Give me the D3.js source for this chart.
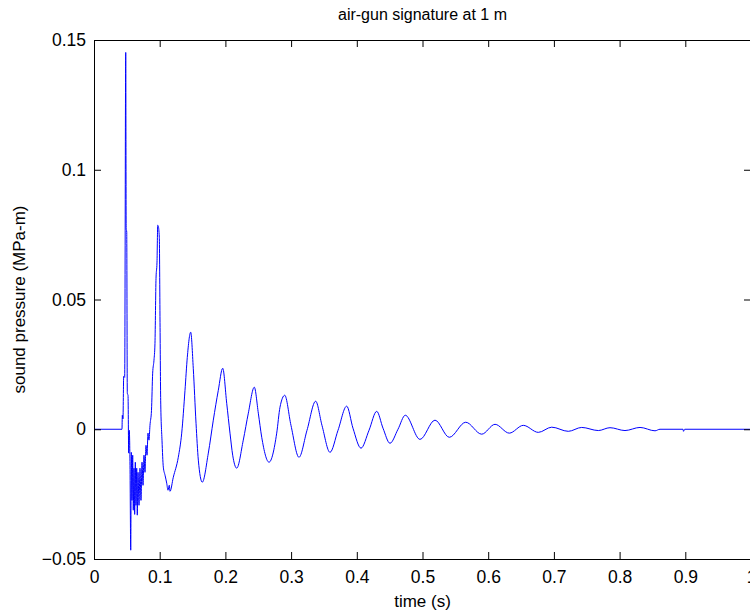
<!DOCTYPE html>
<html>
<head>
<meta charset="utf-8">
<script src="https://cdn.jsdelivr.net/npm/d3@7"></script>
<style>
  body { margin: 0; background: #fff; }
  svg { display: block; font-family: "Liberation Sans", Arial, sans-serif; }
</style>
</head>
<body>
<script>
// SIGNAL: time (s) and sound pressure (MPa-m)
const timeS = [
  0, 0.0426, 0.0431, 0.0441, 0.0452, 0.0467, 0.0483, 0.0490, 0.0498, 0.0507,
  0.0518, 0.0528, 0.0537, 0.0548, 0.0559, 0.0568, 0.0578, 0.0589, 0.0598, 0.0609,
  0.0619, 0.0629, 0.0639, 0.0650, 0.0659, 0.0670, 0.0685, 0.0700, 0.0715, 0.0731,
  0.0746, 0.0761, 0.0776, 0.0791, 0.0807, 0.0822, 0.0837, 0.0852, 0.0875, 0.0893,
  0.0913, 0.0928, 0.0944, 0.0959, 0.0970, 0.0979, 0.0994, 0.1005, 0.1015, 0.1035,
  0.1055, 0.1081, 0.1107, 0.1126, 0.1146, 0.1157, 0.1207, 0.1283, 0.1335, 0.1385,
  0.1420, 0.1472, 0.1511, 0.1553, 0.1588, 0.1648, 0.1740, 0.1816, 0.1892, 0.1959,
  0.2020, 0.2070, 0.2111, 0.2172, 0.2272, 0.2349, 0.2440, 0.2501, 0.2553, 0.2664,
  0.2781, 0.2831, 0.2903, 0.2998, 0.3120, 0.3242, 0.3374, 0.3470, 0.3592, 0.3714,
  0.3846, 0.3942, 0.4064, 0.4186, 0.4303, 0.4399, 0.4505, 0.4627, 0.4738, 0.4962,
  0.5190, 0.5408, 0.5658, 0.5901, 0.6104, 0.6321, 0.6534, 0.6763, 0.6967, 0.7219,
  0.7423, 0.7676, 0.7854, 0.8082, 0.8311, 0.8539, 0.8615, 0.8965, 0.8973, 0.8990,
  1.0
];
const pressure = [
  0, 0, 0.0054, 0.0040, 0.0204, 0.0200, 0.1452, 0.0775, 0.0760, 0.0139,
  0.0130, -0.0092, -0.0004, -0.0139, -0.0466, -0.0089, -0.0274, -0.0100, -0.0312, -0.0150,
  -0.0328, -0.0127, -0.0293, -0.0150, -0.0331, -0.0166, -0.0293, -0.0150, -0.0274, -0.0127,
  -0.0216, -0.0100, -0.0166, -0.0062, -0.0100, -0.0015, -0.0042, 0.0015, 0.0073, 0.0216,
  0.0266, 0.0331, 0.0582, 0.0644, 0.0786, 0.0782, 0.0740, 0.0412, 0.0112, -0.0042,
  -0.0146, -0.0177, -0.0208, -0.0235, -0.0216, -0.0239, -0.0185, -0.0108, -0.0015, 0.0150,
  0.0277, 0.0374, 0.0235, 0.0023, -0.0119, -0.0204, -0.0092, 0.0035, 0.0150, 0.0235,
  0.0100, -0.0015, -0.0100, -0.0150, -0.0042, 0.0062, 0.0162, 0.0062, -0.0031, -0.0127,
  -0.0015, 0.0085, 0.0131, 0.0015, -0.0108, -0.0004, 0.0108, 0.0015, -0.0089, -0.0004,
  0.0089, 0.0004, -0.0073, -0.0004, 0.0069, 0.0004, -0.0054, 0, 0.0054, -0.0039,
  0.0035, -0.0031, 0.0027, -0.0019, 0.0019, -0.0015, 0.0015, -0.0012, 0.0008, -0.0008,
  0.0007, -0.0005, 0.0006, -0.0005, 0.0007, -0.0006, 0, 0, -0.0008, 0,
  0
];

// TICKS
const xTicks = [0, 0.1, 0.2, 0.3, 0.4, 0.5, 0.6, 0.7, 0.8, 0.9, 1];
const yTicks = [-0.05, 0, 0.05, 0.1, 0.15];

const data = timeS.map((t, i) => ({ t: t, p: pressure[i] }));

// SET UP SVG DIMENSIONS
const W = 750, H = 615;
const margin = { top: 40, right: -1, bottom: 56, left: 94 };
const width = W - margin.left - margin.right;
const height = H - margin.top - margin.bottom;

const svg = d3.select("body").append("svg")
    .attr("width", W)
    .attr("height", H);

const g = svg.append("g")
    .attr("transform", `translate(${margin.left},${margin.top})`);

// SCALES
const x = d3.scaleLinear().domain([0, 1]).range([0, width]);
const y = d3.scaleLinear().domain([-0.05, 0.15]).range([height, 0]);

// SIGNAL LINE
const line = d3.line()
    .x(d => x(d.t))
    .y(d => y(d.p))
    .curve(d3.curveMonotoneX);

g.append("path")
    .datum(data)
    .attr("fill", "none")
    .attr("stroke", "#0000ff")
    .attr("stroke-width", 1)
    .attr("d", line);

// AXES (matlab style box, ticks pointing inward)
const tickLen = 7;
const fmt = d => d3.format("")(+d.toFixed(2));

const xAxis = d3.axisBottom(x).tickValues(xTicks).tickSize(-tickLen).tickPadding(12).tickFormat(fmt);
const yAxis = d3.axisLeft(y).tickValues(yTicks).tickSize(-tickLen).tickPadding(8).tickFormat(fmt);

g.append("g")
    .attr("transform", `translate(0,${height})`)
    .call(xAxis);
g.append("g")
    .call(yAxis);
g.append("g")
    .call(d3.axisTop(x).tickValues(xTicks).tickSize(-tickLen).tickFormat(""));
g.append("g")
    .attr("transform", `translate(${width},0)`)
    .call(d3.axisRight(y).tickValues(yTicks).tickSize(-tickLen).tickFormat(""));

g.selectAll(".domain").attr("stroke", "#000").attr("stroke-width", 1);
g.selectAll(".tick line").attr("stroke", "#000");
g.selectAll(".tick text")
    .attr("fill", "#000")
    .attr("font-size", "17.5px")
    .attr("font-family", "Liberation Sans, Arial, sans-serif");

// TITLE AND LABELS
svg.append("text")
    .attr("x", margin.left + width / 2)
    .attr("y", 20)
    .attr("text-anchor", "middle")
    .attr("font-size", "16px")
    .text("air-gun signature at 1 m");

svg.append("text")
    .attr("x", margin.left + width / 2)
    .attr("y", 607)
    .attr("text-anchor", "middle")
    .attr("font-size", "17px")
    .text("time (s)");

svg.append("text")
    .attr("transform", "rotate(-90)")
    .attr("x", -(margin.top + height / 2))
    .attr("y", 25)
    .attr("text-anchor", "middle")
    .attr("font-size", "17px")
    .text("sound pressure (MPa-m)");
</script>
</body>
</html>
